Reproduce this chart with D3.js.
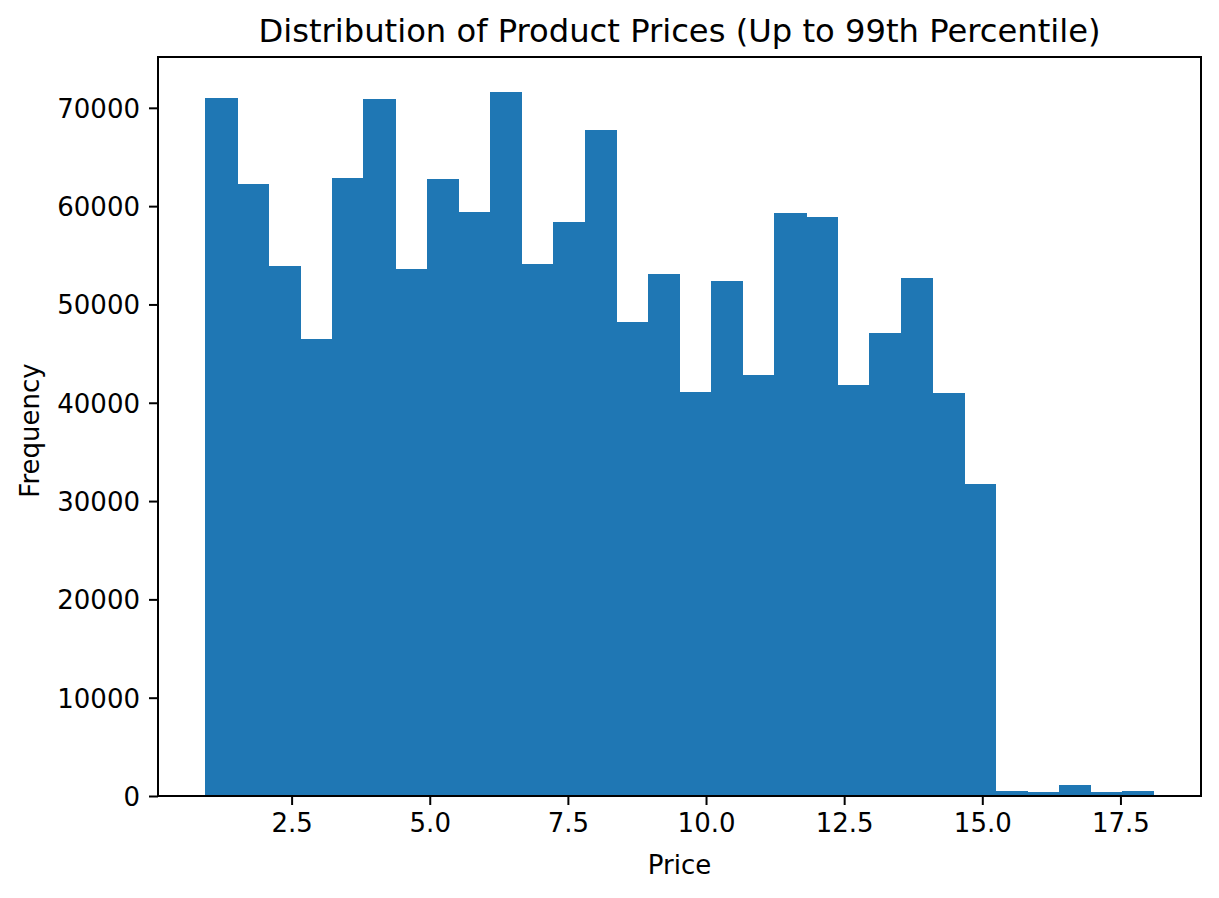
<!DOCTYPE html>
<html>
<head>
<meta charset="utf-8">
<script src="https://cdn.jsdelivr.net/npm/d3@7"></script>
<style>
  html, body { margin: 0; padding: 0; background: #fff; }
  text { font-family: "DejaVu Sans", sans-serif; fill: #000; }
</style>
</head>
<body>
<svg id="chart" width="1219" height="898"></svg>
<script>
// ---- data ----
const binStart = 0.94;
const binEnd = 18.10;
const counts = [
  71000, 62220, 53870, 46440, 62830, 70880, 53560, 62730, 59370, 71590,
  54070, 58350, 67720, 48170, 53050, 41140, 52340, 42870, 59270, 58860,
  41850, 47050, 52650, 41040, 31770, 510, 410, 1120, 410, 510
];
const xTicks = [2.5, 5.0, 7.5, 10.0, 12.5, 15.0, 17.5];
const yTicks = [0, 10000, 20000, 30000, 40000, 50000, 60000, 70000];
const titleText = "Distribution of Product Prices (Up to 99th Percentile)";
const xLabel = "Price";
const yLabel = "Frequency";

// ---- layout ----
const W = 1219, H = 898;
const margin = { left: 158, top: 57, right: 18, bottom: 102 };
const iw = W - margin.left - margin.right;
const ih = H - margin.top - margin.bottom;

const nBins = counts.length;
const bw = (binEnd - binStart) / nBins;
const bins = counts.map((c, i) => ({ x0: binStart + i * bw, x1: binStart + (i + 1) * bw, c }));

const pad = 0.05 * (binEnd - binStart);
const x = d3.scaleLinear().domain([binStart - pad, binEnd + pad]).range([0, iw]);
const y = d3.scaleLinear().domain([0, d3.max(counts) * 1.05]).range([ih, 0]);

const svg = d3.select("#chart");
const g = svg.append("g").attr("transform", `translate(${margin.left},${margin.top})`);

g.selectAll("rect.bar").data(bins).enter().append("rect")
  .attr("class", "bar")
  .attr("x", d => x(d.x0))
  .attr("width", d => x(d.x1) - x(d.x0) + 0.6)
  .attr("y", d => y(d.c))
  .attr("height", d => y(0) - y(d.c))
  .attr("fill", "#1f77b4")
  .attr("shape-rendering", "crispEdges");

const fs = 26;
const xAxis = d3.axisBottom(x).tickValues(xTicks).tickFormat(d3.format(".1f"))
  .tickSize(9).tickPadding(9);
const yAxis = d3.axisLeft(y).tickValues(yTicks).tickFormat(d3.format("d"))
  .tickSize(9).tickPadding(9);

const gx = g.append("g").attr("transform", `translate(0,${ih})`).call(xAxis);
const gy = g.append("g").call(yAxis);
[gx, gy].forEach(a => {
  a.select(".domain").remove();
  a.selectAll(".tick line").attr("stroke", "#000").attr("stroke-width", 2);
  a.selectAll(".tick text").style("font-size", fs + "px").attr("fill", "#000")
    .style("font-family", "'DejaVu Sans', sans-serif");
});
gx.selectAll(".tick text").attr("dy", "0.71em");
gy.selectAll(".tick text").attr("dy", "0.36em");

// frame
g.append("rect").attr("x", 0).attr("y", 0).attr("width", iw).attr("height", ih)
  .attr("fill", "none").attr("stroke", "#000").attr("stroke-width", 2);

// title
svg.append("text").attr("x", margin.left + iw / 2).attr("y", 42)
  .attr("text-anchor", "middle").style("font-size", "32.2px").text(titleText);

// axis labels
svg.append("text").attr("x", margin.left + iw / 2).attr("y", 874)
  .attr("text-anchor", "middle").style("font-size", fs + "px").text(xLabel);
svg.append("text")
  .attr("transform", `translate(39,${margin.top + ih / 2 + 4}) rotate(-90)`)
  .attr("text-anchor", "middle").style("font-size", fs + "px").text(yLabel);
</script>
</body>
</html>
